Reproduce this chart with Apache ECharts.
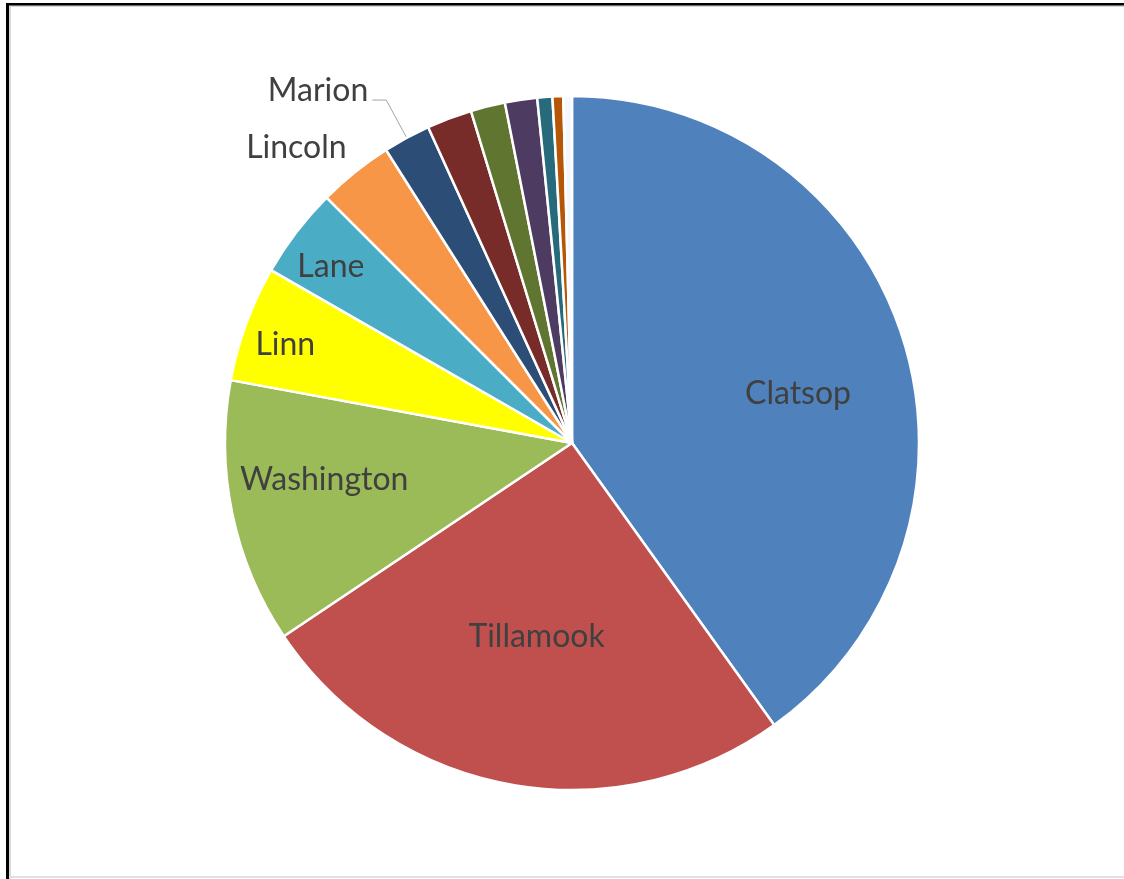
<!DOCTYPE html>
<html>
<head>
<meta charset="utf-8">
<script src="https://cdn.jsdelivr.net/npm/echarts@6/dist/echarts.min.js"></script>
<style>
  html, body { margin: 0; padding: 0; background: #fff; }
  #main { width: 1124px; height: 879px; }
</style>
</head>
<body>
<div id="main"></div>
<script>
// slice shares (percent), clockwise from 12 o'clock
const counties = ["Clatsop", "Tillamook", "Washington", "Linn", "Lane", "Lincoln", "Marion",
  "Other 1", "Other 2", "Other 3", "Other 4", "Other 5", "Other 6"];
const shares = [40.1, 25.5, 12.3, 5.4, 4.2, 3.5, 2.2, 2.1, 1.6, 1.5, 0.7, 0.5, 0.4];
const colors = ["#4F81BD", "#C0504D", "#9BBB59", "#FFFF00", "#4BACC6", "#F79646", "#2C4D75",
  "#772C2A", "#5F7530", "#4D3B62", "#276A7C", "#B65708", "#F4F7FB"];
const shownLabels = ["Clatsop", "Tillamook", "Washington", "Linn", "Lane", "Lincoln", "Marion"];
const outsideLabels = ["Lincoln", "Marion"];
// label nudges (px) from the default position
const labelNudge = [[58, 5], [-4, 20], [-75, 1], [-121, -37], [-101, -69], [15, 0], [0, 0]];

function pieData() {
  return counties.map((name, i) => {
    const show = shownLabels.includes(name);
    const outside = outsideLabels.includes(name);
    const item = {
      name: name,
      value: shares[i],
      itemStyle: { color: colors[i] },
      label: { show: show, position: outside ? "outside" : "inside" },
      labelLine: { show: name === "Marion", length: name === "Marion" ? 43 : 31, length2: name === "Marion" ? 14 : 0 },
    };
    // Marion's text sits above its leader line
    if (name === "Marion") {
      item.label.formatter = "{b}\n";
      item.label.lineHeight = 18;
    }
    return item;
  });
}

function frame() {
  return [
    { type: "rect", shape: { x: 9, y: 5, width: 1115, height: 2 }, style: { fill: "#d9d9d9" }, silent: true },
    { type: "rect", shape: { x: 9, y: 5, width: 2, height: 874 }, style: { fill: "#d9d9d9" }, silent: true },
    { type: "rect", shape: { x: 6, y: 3, width: 1118, height: 2.5 }, style: { fill: "#000" }, silent: true },
    { type: "rect", shape: { x: 6, y: 3, width: 3, height: 876 }, style: { fill: "#000" }, silent: true },
    { type: "rect", shape: { x: 9, y: 876, width: 1115, height: 2 }, style: { fill: "#e0e0e0" }, silent: true },
  ];
}

const chart = echarts.init(document.getElementById("main"), null, { renderer: "canvas" });
chart.setOption({
  backgroundColor: "#fff",
  animation: false,
  graphic: frame(),
  series: [
    {
      type: "pie",
      center: [572, 443],
      radius: 347,
      startAngle: 90,
      clockwise: true,
      avoidLabelOverlap: false,
      data: pieData(),
      itemStyle: { borderColor: "#fff", borderWidth: 2.5 },
      label: {
        color: "#404040",
        fontFamily: "Lato",
        fontSize: 32,
        distanceToLabelLine: 4,
      },
      labelLine: {
        lineStyle: { color: "#a6a6a6", width: 1 },
      },
      labelLayout: function (params) {
        const n = labelNudge[params.dataIndex];
        if (!n) return {};
        return { dx: n[0], dy: n[1] };
      },
    },
  ],
});
</script>
</body>
</html>
